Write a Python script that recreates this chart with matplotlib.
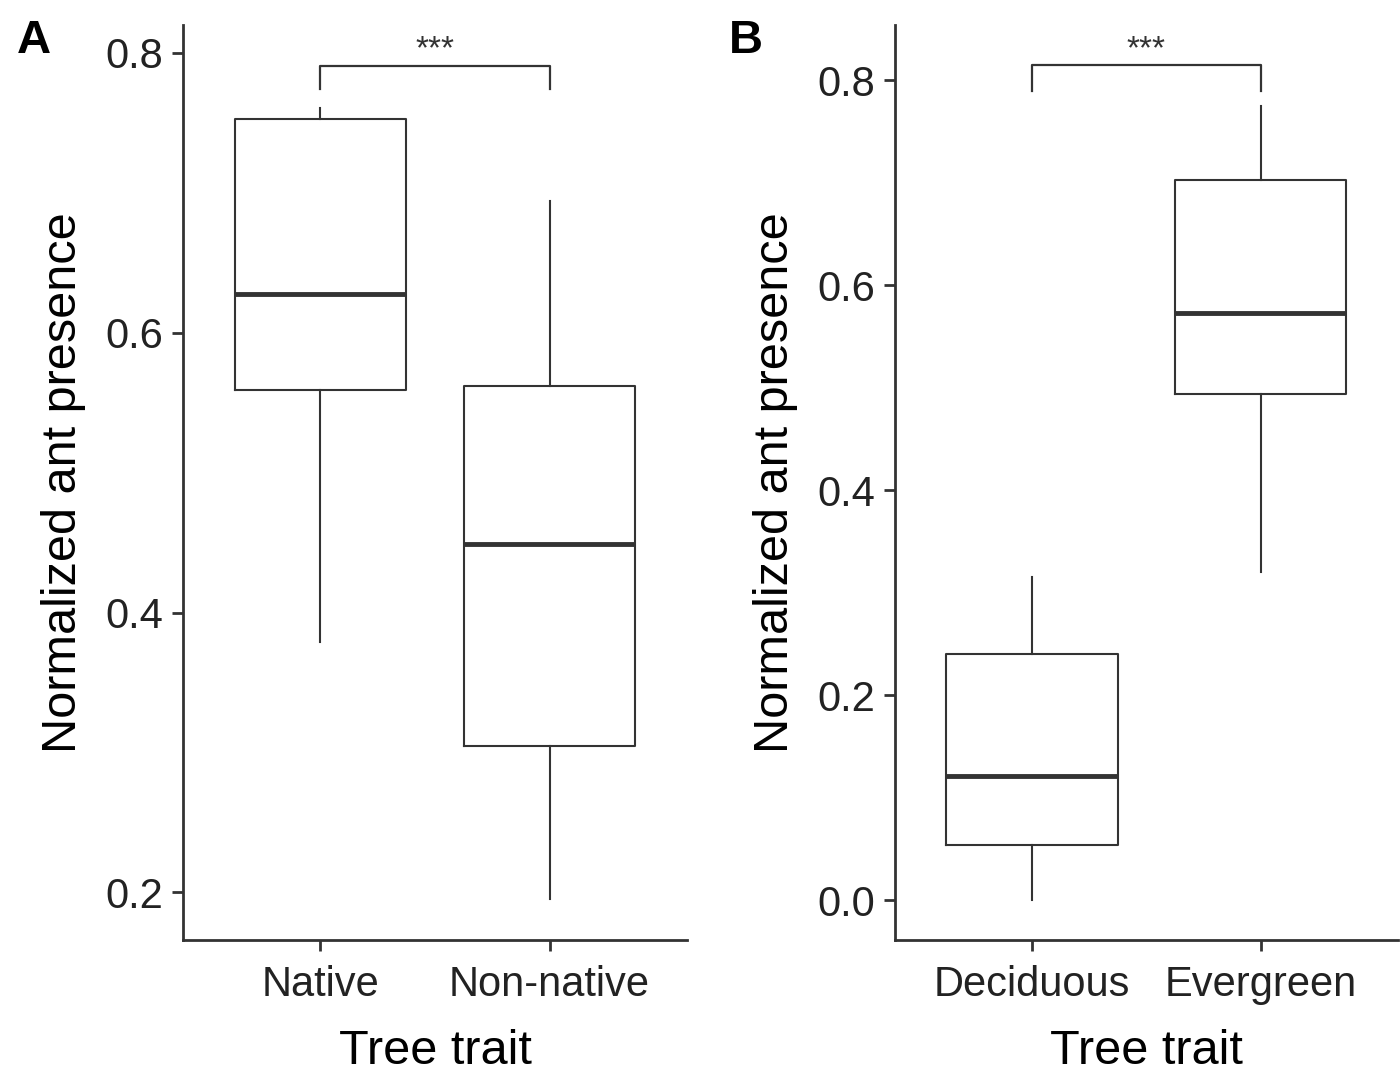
import matplotlib.pyplot as plt

plt.rcParams['font.family'] = ['Liberation Sans', 'DejaVu Sans']

# Panel A: native vs non-native
cats_a = ["Native", "Non-native"]
stats_a = [
    dict(whislo=0.379, q1=0.559, med=0.628, q3=0.753, whishi=0.761),
    dict(whislo=0.195, q1=0.305, med=0.449, q3=0.562, whishi=0.694),
]
yticks_a = [0.2, 0.4, 0.6, 0.8]
ylim_a = (0.166, 0.82)
bracket_a = (0.791, 0.774)

# Panel B: deciduous vs evergreen
cats_b = ["Deciduous", "Evergreen"]
stats_b = [
    dict(whislo=0.0, q1=0.054, med=0.121, q3=0.240, whishi=0.315),
    dict(whislo=0.320, q1=0.494, med=0.573, q3=0.703, whishi=0.775),
]
yticks_b = [0.0, 0.2, 0.4, 0.6, 0.8]
ylim_b = (-0.039, 0.854)
bracket_b = (0.815, 0.790)

INK = "#333333"


def draw_panel(ax, cats, stats, yticks, ylim, bracket, letter):
    for s, c in zip(stats, cats):
        s["label"] = c
        s["fliers"] = []
    ax.bxp(
        stats,
        positions=[1, 2],
        widths=0.75,
        showfliers=False,
        showcaps=False,
        boxprops=dict(color=INK, linewidth=1.5),
        whiskerprops=dict(color=INK, linewidth=1.5),
        medianprops=dict(color=INK, linewidth=3.5),
    )
    ax.set_xlim(0.4, 2.6)
    ax.set_ylim(*ylim)
    ax.set_yticks(yticks)
    ax.set_yticklabels([f"{t:.1f}" for t in yticks])
    ax.set_xticks([1, 2])
    ax.set_xticklabels(cats)
    ax.spines["top"].set_visible(False)
    ax.spines["right"].set_visible(False)
    for sp in ("left", "bottom"):
        ax.spines[sp].set_linewidth(2)
        ax.spines[sp].set_color(INK)
    ax.tick_params(labelsize=30, width=2, length=8, color=INK, labelcolor="#222222", pad=6)
    ax.tick_params(axis="x", pad=10)
    ax.set_xlabel("Tree trait", fontsize=35, labelpad=17)
    ax.set_ylabel("Normalized ant presence", fontsize=35, labelpad=14)

    # significance bracket
    top, foot = bracket
    ax.plot([1, 1, 2, 2], [foot, top, top, foot], color=INK, linewidth=1.6, clip_on=False)
    ax.annotate("***", xy=(1.5, top), xytext=(0, 5), textcoords="offset points",
                ha="center", va="baseline", fontsize=24, color=INK)
    ax.text(-0.33, 1.006, letter, transform=ax.transAxes, fontsize=34, fontweight="bold",
            ha="left", va="top")


fig = plt.figure(figsize=(14, 10.71), dpi=100)
ax_a = fig.add_axes([0.1307, 0.1223, 0.36, 0.8544])
ax_b = fig.add_axes([0.6393, 0.1223, 0.359, 0.8544])

draw_panel(ax_a, cats_a, stats_a, yticks_a, ylim_a, bracket_a, "A")
draw_panel(ax_b, cats_b, stats_b, yticks_b, ylim_b, bracket_b, "B")

fig.savefig("out.png", dpi=100)
